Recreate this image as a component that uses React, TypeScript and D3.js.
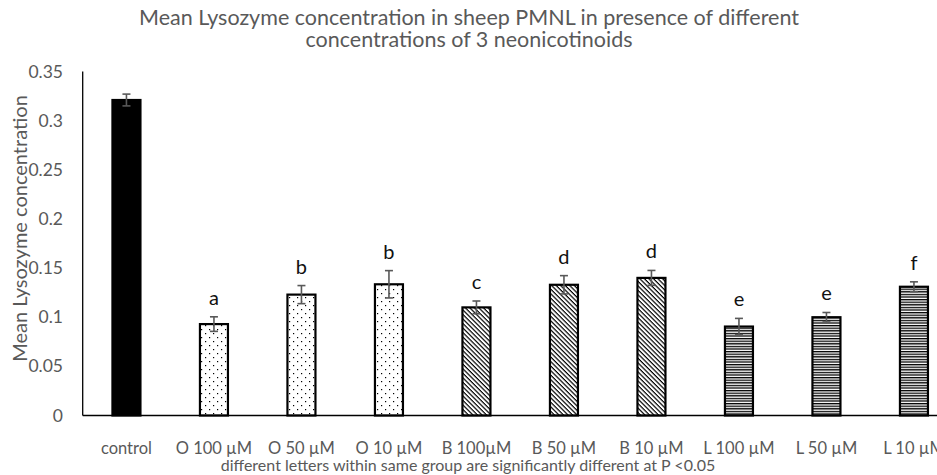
import React from "react";
import * as d3 from "d3";

const categories = ["control", "O 100 \u00b5M", "O 50 \u00b5M", "O 10 \u00b5M", "B 100\u00b5M", "B 50 \u00b5M", "B 10 \u00b5M", "L 100 \u00b5M", "L 50 \u00b5M", "L 10 \u00b5M"];
const means = [0.321, 0.093, 0.123, 0.1335, 0.110, 0.133, 0.140, 0.0905, 0.100, 0.131];
const errors = [0.006, 0.0074, 0.0092, 0.0139, 0.0065, 0.0093, 0.0076, 0.0083, 0.0048, 0.005];
const letters = ["", "a", "b", "b", "c", "d", "d", "e", "e", "f"];
const fills = ["solid", "dots", "dots", "dots", "diag", "diag", "diag", "horiz", "horiz", "horiz"];
const yTicks = [0, 0.05, 0.1, 0.15, 0.2, 0.25, 0.3, 0.35];
const titleLines = ["Mean Lysozyme concentration in sheep PMNL in presence of different", "concentrations of 3 neonicotinoids"];
const yLabel = "Mean Lysozyme concentration";
const footnote = "different letters within same group are significantly different at P <0.05";

const W = 937;
const H = 475;
const left = 82.7;
const bottom = 415.5;
const top = 71.5;
const step = 87.5;
const font = "Lato, 'Noto Sans', sans-serif";
const gray = "#595959";

export default function App() {
  const x = d3
    .scaleBand<string>()
    .domain(categories)
    .range([left, left + step * categories.length])
    .paddingInner(0.68)
    .paddingOuter(0.34);
  const y = d3.scaleLinear().domain([0, 0.35]).range([bottom, top]);
  const bw = x.bandwidth();

  const fillFor = (f: string) =>
    f === "solid" ? "#000" : `url(#pat-${f})`;

  return (
    <svg
      width={W}
      height={H}
      style={{ position: "absolute", left: 0, top: 0, background: "#fff" }}
      fontFamily={font}
    >
      <defs>
        <pattern id="pat-dots" width="8" height="8" patternUnits="userSpaceOnUse">
          <rect width="8" height="8" fill="#fff" />
          <rect x="1" y="1" width="1.2" height="1.2" fill="#000" />
          <rect x="5" y="5" width="1.2" height="1.2" fill="#000" />
        </pattern>
        <pattern id="pat-diag" width="3.2" height="3.2" patternUnits="userSpaceOnUse" patternTransform="rotate(45)">
          <rect width="3.2" height="3.2" fill="#fff" />
          <rect x="0" y="0" width="3.2" height="1.2" fill="#000" />
        </pattern>
        <pattern id="pat-horiz" width="4" height="2.6" patternUnits="userSpaceOnUse">
          <rect width="4" height="2.6" fill="#fff" />
          <rect x="0" y="0" width="4" height="1.3" fill="#000" />
        </pattern>
      </defs>

      {titleLines.map((t, i) => (
        <text key={i} x={469} y={24.5 + i * 22} textAnchor="middle" fontSize={21.5} fill={gray}>
          {t}
        </text>
      ))}

      {yTicks.map((t) => (
        <text key={t} x={63} y={y(t)} dy="0.35em" textAnchor="end" fontSize={17.5} fill={gray}>
          {t === 0 ? "0" : d3.format("")(+t.toFixed(2))}
        </text>
      ))}

      <text
        transform={`translate(20,${(top + bottom) / 2 - 15}) rotate(-90)`}
        textAnchor="middle"
        dy="0.35em"
        fontSize={20}
        fill={gray}
      >
        {yLabel}
      </text>

      {categories.map((c, i) => {
        const bx = x(c)!;
        const cx = bx + bw / 2;
        const v = means[i];
        const e = errors[i];
        const yTop = y(v + e);
        const yBot = y(v - e);
        return (
          <g key={c}>
            <rect
              x={bx}
              y={y(v)}
              width={bw}
              height={bottom - y(v)}
              fill={fillFor(fills[i])}
              stroke="#000"
              strokeWidth={2.2}
            />
            <g stroke={gray} strokeWidth={1.6}>
              <line x1={cx} x2={cx} y1={yTop} y2={yBot} />
              <line x1={cx - 4} x2={cx + 4} y1={yTop} y2={yTop} />
              <line x1={cx - 4} x2={cx + 4} y1={yBot} y2={yBot} />
            </g>
            {letters[i] && (
              <text x={cx} y={yTop - 12} textAnchor="middle" fontSize={20} fill="#111">
                {letters[i]}
              </text>
            )}
            <text x={cx} y={453.5} textAnchor="middle" fontSize={16.5} fill={gray}>
              {c}
            </text>
          </g>
        );
      })}

      <line x1={left} x2={left} y1={top} y2={bottom} stroke="#000" strokeWidth={1.3} />
      <line x1={left} x2={W} y1={bottom} y2={bottom} stroke="#000" strokeWidth={1.3} />

      <text x={468} y={471} textAnchor="middle" fontSize={16} fill={gray}>
        {footnote}
      </text>
    </svg>
  );
}
